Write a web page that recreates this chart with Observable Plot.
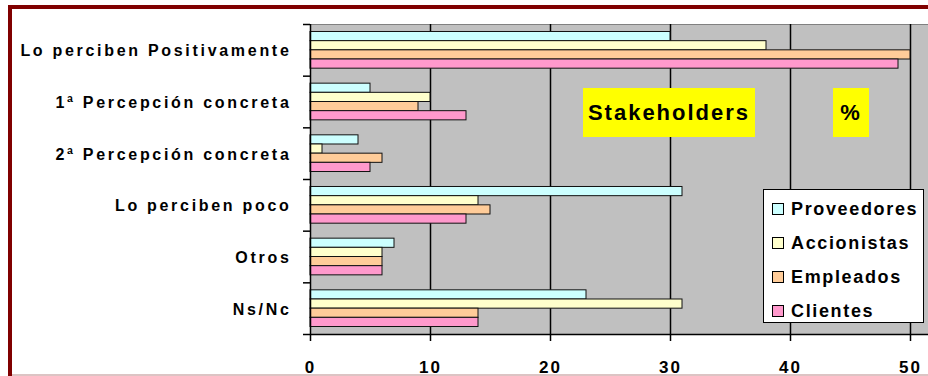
<!DOCTYPE html>
<html>
<head>
<meta charset="utf-8">
<script src="https://cdn.jsdelivr.net/npm/d3@7"></script>
<script src="https://cdn.jsdelivr.net/npm/@observablehq/plot@0.6"></script>
<style>
  html, body { margin: 0; padding: 0; background: #fff; }
  body { font-family: "Liberation Sans", Arial, sans-serif; color: #000; }
  #wrap { position: relative; width: 928px; height: 376px; overflow: hidden; }
  #wrap svg { position: absolute; left: 0; top: 0; }
  #wrap svg text { font-weight: 700; fill: #000; }
  g[aria-label="y-axis tick label"] text { letter-spacing: 2.7px; font-size: 16px; }
  g[aria-label="x-axis tick label"] text { letter-spacing: 2px; font-size: 17px; }
  .ov { position: absolute; }
  .tag { position: absolute; background: #ffff00; font-weight: 700; font-size: 22px;
         letter-spacing: 2px; display: flex; align-items: center; justify-content: center; }
  #legend { position: absolute; left: 763px; top: 189px; width: 159px; height: 132px;
            background: #fff; border: 1px solid #000; }
  .lrow { position: absolute; left: 8px; height: 34px; display: flex; align-items: center;
          font-weight: 700; font-size: 18px; letter-spacing: 1.65px; white-space: nowrap; }
  .sw { width: 10px; height: 10px; border: 1px solid #000; margin-right: 7px; }
</style>
</head>
<body>
<div id="wrap"></div>
<script>
const categories = ["Lo perciben Positivamente", "1ª Percepción concreta", "2ª Percepción concreta", "Lo perciben poco", "Otros", "Ns/Nc"];
const series = ["Proveedores", "Accionistas", "Empleados", "Clientes"];
const proveedores = [30, 5, 4, 31, 7, 23];
const accionistas = [38, 10, 1, 14, 6, 31];
const empleados   = [50, 9, 6, 15, 6, 14];
const clientes    = [49, 13, 5, 13, 6, 14];
const colors = ["#ccffff", "#ffffcc", "#ffcc99", "#ff99cc"];
const xTicks = [0, 10, 20, 30, 40, 50];
const gridTicks = [10, 20, 30, 40, 50];
const annotations = ["Stakeholders", "%"];

const values = [proveedores, accionistas, empleados, clientes];
const rows = [];
categories.forEach((c, i) => series.forEach((s, j) => rows.push({category: c, ci: i, series: s, sj: j, value: values[j][i]})));

const barH = 0.1775;
const pad = (1 - 4 * barH) / 2;

const chart = Plot.plot({
  width: 928,
  height: 376,
  marginLeft: 310,
  marginRight: 0,
  marginTop: 24,
  marginBottom: 42,
  style: {fontFamily: '"Liberation Sans", Arial, sans-serif', background: "transparent", color: "#000"},
  x: {domain: [0, 51.5], label: null},
  y: {domain: [0, categories.length], reverse: true, label: null},
  color: {domain: series, range: colors},
  marks: [
    Plot.frame({fill: "#c0c0c0", stroke: "#808080"}),
    Plot.gridX(gridTicks, {stroke: "#000", strokeOpacity: 1, strokeWidth: 1.5}),
    Plot.rect(rows, {
      x1: 0,
      x2: "value",
      y1: d => d.ci + pad + d.sj * barH,
      y2: d => d.ci + pad + (d.sj + 1) * barH,
      fill: "series",
      stroke: "#111",
      strokeWidth: 1
    }),
    Plot.ruleX([0], {stroke: "#000", strokeWidth: 1.5}),
    Plot.ruleY([categories.length], {stroke: "#000", strokeWidth: 1.5}),
    Plot.axisY(d3.range(categories.length + 1), {tickSize: 7, tickFormat: () => "", stroke: "#000", strokeWidth: 1.5, label: null}),
    Plot.axisY(categories.map((c, i) => i + 0.5), {
      tickSize: 0, tickPadding: 19, label: null, dy: 1,
      tickFormat: d => categories[Math.floor(d)],
      fontSize: 16, fontWeight: "bold", fill: "#000"
    }),
    Plot.axisX(xTicks, {
      tickSize: 7, tickPadding: 19, stroke: "#000", strokeWidth: 1.5, label: null,
      fontSize: 17, fontWeight: "bold", fill: "#000"
    })
  ]
});

const wrap = document.getElementById("wrap");
wrap.appendChild(chart);

function ov(left, top, w, h, bg) {
  const d = document.createElement("div");
  d.className = "ov";
  Object.assign(d.style, {left: left + "px", top: top + "px", width: w + "px", height: h + "px", background: bg});
  wrap.appendChild(d);
}
// outer border
ov(8, 5, 920, 4, "#800000");
ov(8, 5, 4, 371, "#800000");
ov(12, 374, 916, 2, "#dcc4c4");

// yellow annotations
const tagPos = [[583, 88, 172, 49], [833, 88, 36, 49]];
annotations.forEach((t, k) => {
  const d = document.createElement("div");
  d.className = "tag";
  const [l, tp, w, h] = tagPos[k];
  Object.assign(d.style, {left: l + "px", top: tp + "px", width: w + "px", height: h + "px"});
  d.textContent = t;
  wrap.appendChild(d);
});

// legend
const legend = document.createElement("div");
legend.id = "legend";
series.forEach((s, j) => {
  const r = document.createElement("div");
  r.className = "lrow";
  r.style.top = (2 + j * 34) + "px";
  const sw = document.createElement("div");
  sw.className = "sw";
  sw.style.background = colors[j];
  const tx = document.createElement("span");
  tx.textContent = s;
  r.appendChild(sw);
  r.appendChild(tx);
  legend.appendChild(r);
});
wrap.appendChild(legend);
</script>
</body>
</html>
